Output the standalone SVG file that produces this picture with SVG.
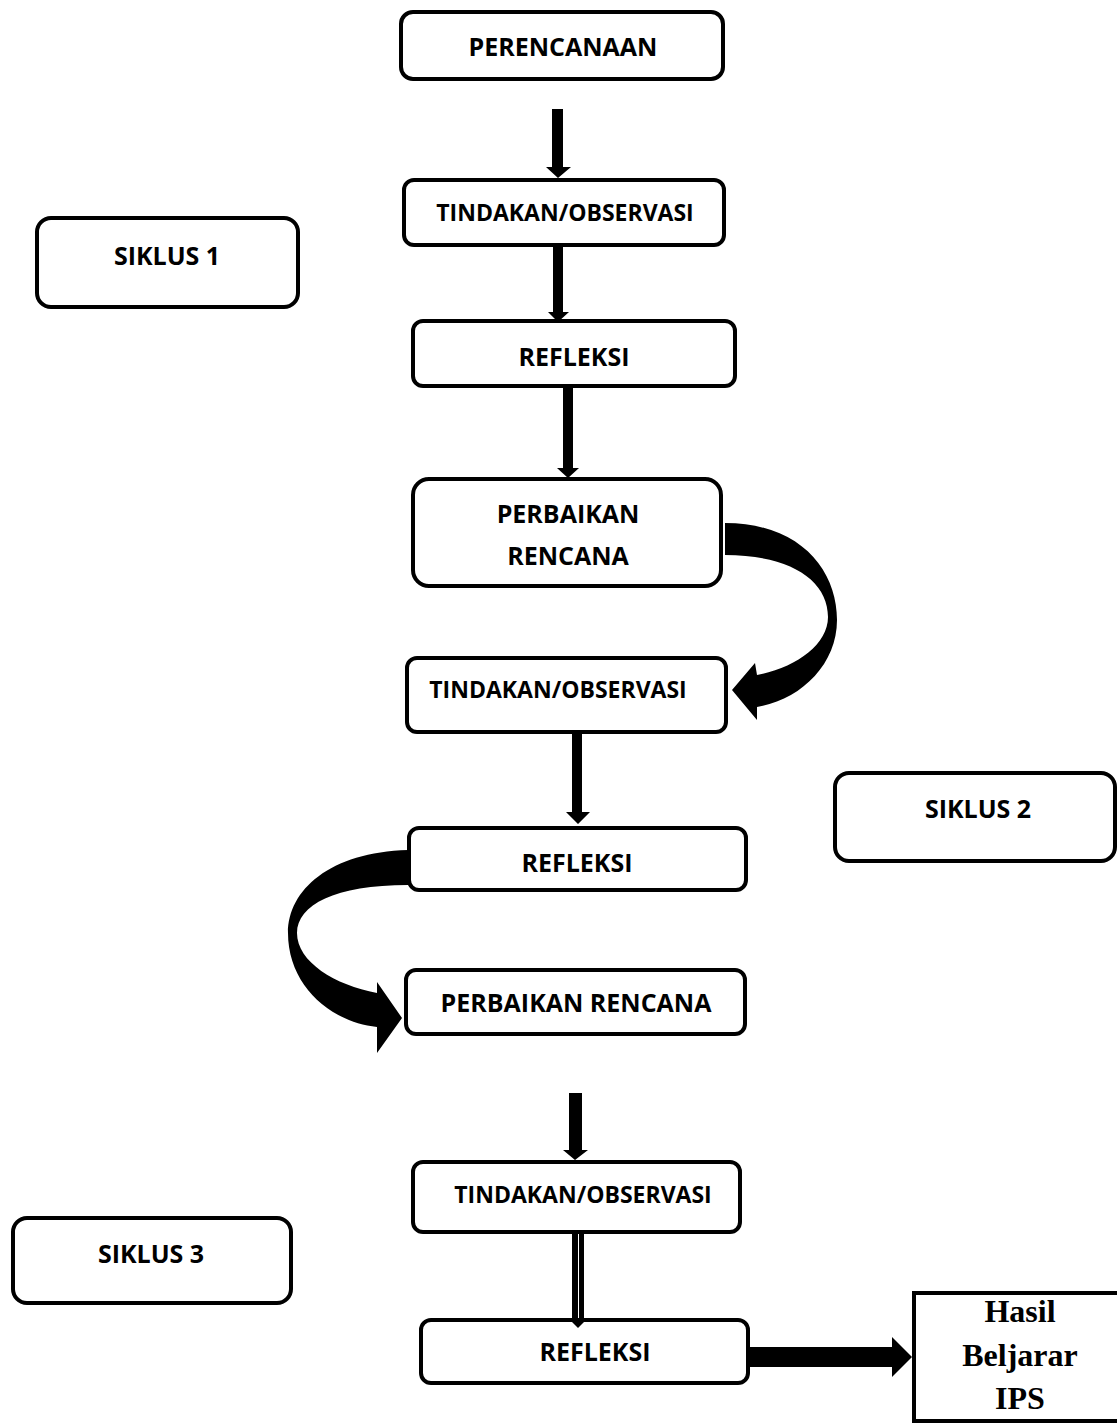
<svg xmlns="http://www.w3.org/2000/svg" width="1117" height="1423" viewBox="0 0 1117 1423">
<style>
.box{fill:#fff;stroke:#000;stroke-width:4}
.t{font-family:"Open Sans","Liberation Sans",sans-serif;font-weight:bold;font-size:25px;fill:#000;text-anchor:middle}
.s{font-size:23px}
.h{font-family:"Liberation Serif","Times New Roman",serif;font-weight:bold;font-size:32px;fill:#000;text-anchor:middle}
.a{fill:#000;stroke:none}
</style>
<rect width="1117" height="1423" fill="#fff"/>
<g id="perencanaan"><rect class="box" x="401" y="12" width="322" height="67" rx="12"/><text class="t" x="563" y="56">PERENCANAAN</text></g>
<g id="tindakan1"><rect class="box" x="404" y="180" width="320" height="65" rx="10"/><text class="t s" x="565" y="221">TINDAKAN/OBSERVASI</text></g>
<g id="siklus1"><rect class="box" x="37" y="218" width="261" height="89" rx="14"/><text class="t" x="167" y="265">SIKLUS 1</text></g>
<g id="refleksi1"><rect class="box" x="413" y="321" width="322" height="65" rx="10"/><text class="t" x="574" y="366">REFLEKSI</text></g>
<g id="perbaikan1"><rect class="box" x="413" y="479" width="308" height="107" rx="16"/><text class="t" x="568" y="523">PERBAIKAN</text><text class="t" x="568" y="565">RENCANA</text></g>
<g id="tindakan2"><rect class="box" x="407" y="658" width="319" height="74" rx="10"/><text class="t s" x="558" y="698">TINDAKAN/OBSERVASI</text></g>
<g id="siklus2"><rect class="box" x="835" y="773" width="280" height="88" rx="14"/><text class="t" x="978" y="818">SIKLUS 2</text></g>
<g id="refleksi2"><rect class="box" x="409" y="828" width="337" height="62" rx="10"/><text class="t" x="577" y="872">REFLEKSI</text></g>
<g id="perbaikan2"><rect class="box" x="406" y="970" width="339" height="64" rx="10"/><text class="t" x="576" y="1012">PERBAIKAN RENCANA</text></g>
<g id="tindakan3"><rect class="box" x="413" y="1162" width="327" height="70" rx="10"/><text class="t s" x="583" y="1203">TINDAKAN/OBSERVASI</text></g>
<g id="siklus3"><rect class="box" x="13" y="1218" width="278" height="85" rx="14"/><text class="t" x="151" y="1263">SIKLUS 3</text></g>
<g id="refleksi3"><rect class="box" x="421" y="1320" width="327" height="63" rx="10"/><text class="t" x="595" y="1361">REFLEKSI</text></g>
<g id="hasil"><rect class="box" x="914" y="1293" width="220" height="128"/><text class="h" x="1020" y="1322">Hasil</text><text class="h" x="1020" y="1366">Beljarar</text><text class="h" x="1020" y="1409">IPS</text></g>
<g id="connectors">
<polygon class="a" points="552,109 563,109 563,167 571,167 558,178 546,167 552,167"/>
<polygon class="a" points="553,246 563,246 563,312 569,312 558,322 548,312 553,312"/>
<polygon class="a" points="563,387 573,387 573,468 579,468 568,478 557,468 563,468"/>
<path class="a" d="M725,523 C800,523 837,570 837,620 C837,665 800,700 757,707 L757,720 L732,690 L755,663 L757,675 C795,668 828,645 828,617 C828,580 790,555 725,555 Z"/>
<polygon class="a" points="572,733 582,733 582,812 590,812 578,824 566,812 572,812"/>
<path class="a" d="M408,850 C330,852 288,890 288,933 C288,985 330,1022 377,1027 L377,1053 L402,1018 L377,982 L377,993 C335,985 297,962 297,933 C297,905 335,885 408,885 Z"/>
<polygon class="a" points="569,1093 582,1093 582,1150 588,1150 575,1160 563,1150 569,1150"/>
<rect class="a" x="572" y="1233" width="6" height="86"/>
<rect class="a" x="579" y="1233" width="5" height="86"/>
<polygon class="a" points="568,1318 588,1318 578,1328"/>
<polygon class="a" points="749,1347 892,1347 892,1337 912,1357 892,1377 892,1367 749,1367"/>
</g>
</svg>
